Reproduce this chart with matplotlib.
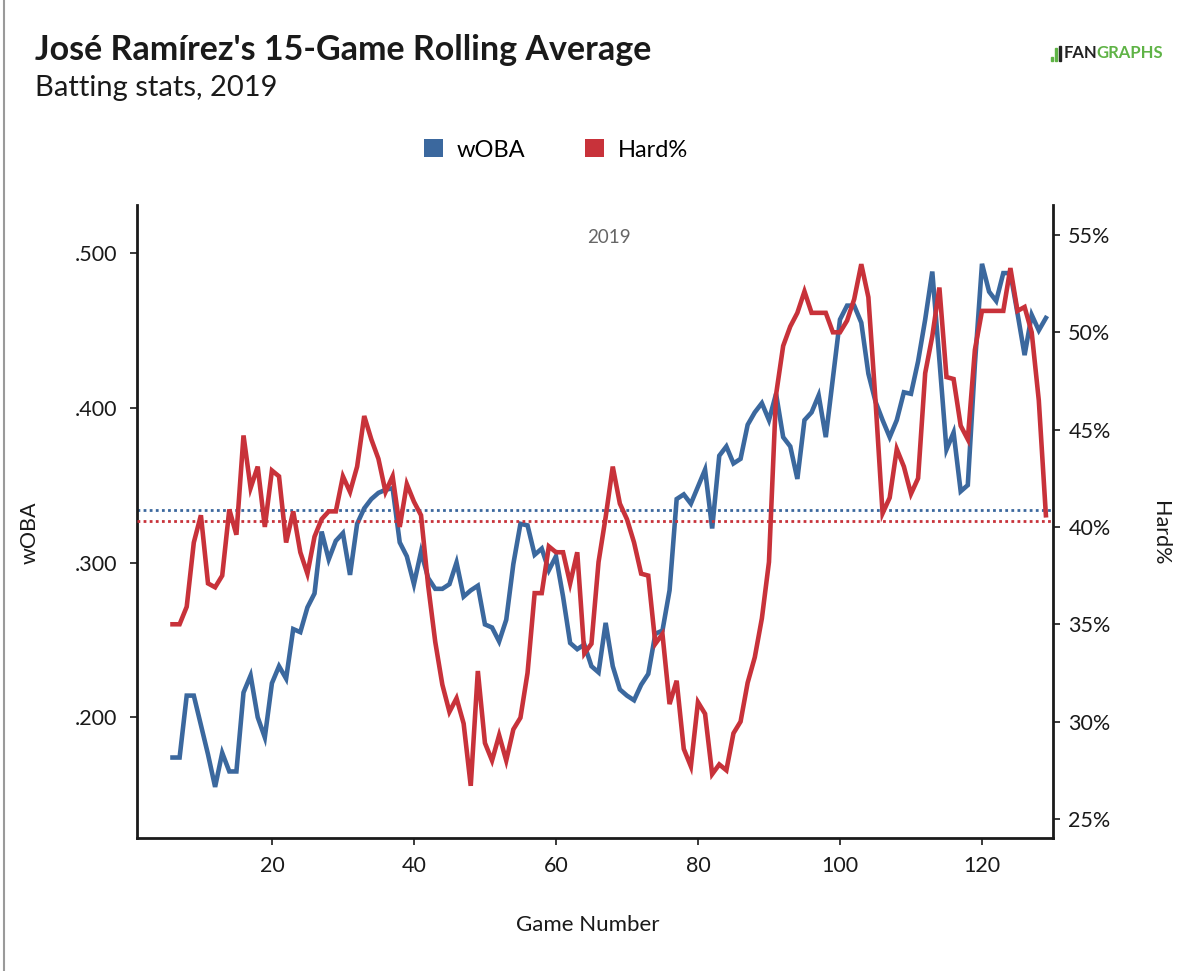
import numpy as np
import matplotlib
matplotlib.use("Agg")
import matplotlib.pyplot as plt
from matplotlib.patches import Patch, Rectangle
from matplotlib.lines import Line2D

plt.rcParams['font.family'] = ['Lato', 'DejaVu Sans']

# 15-game rolling averages, games 6..129
games = np.arange(6, 130)
woba = [
    .174, .174, .214, .214, .195, .176, .155, .177, .165, .165,   # 6-15
    .216, .227, .200, .187, .222, .233, .225, .257, .255, .271,   # 16-25
    .280, .320, .302, .314, .319, .292, .325, .335, .341, .345,   # 26-35
    .347, .348, .313, .304, .286, .307, .290, .283, .283, .286,   # 36-45
    .300, .278, .282, .285, .260, .258, .249, .263, .299, .325,   # 46-55
    .324, .305, .309, .295, .304, .278, .248, .244, .247, .233,   # 56-65
    .229, .261, .233, .218, .214, .211, .221, .228, .254, .256,   # 66-75
    .282, .341, .344, .338, .349, .360, .322, .369, .375, .364,   # 76-85
    .367, .389, .397, .403, .392, .409, .381, .375, .354, .392,   # 86-95
    .397, .408, .381, .419, .457, .466, .466, .455, .422, .404,   # 96-105
    .392, .381, .392, .410, .409, .430, .457, .488, .431, .373,   # 106-115
    .384, .346, .350, .428, .493, .475, .469, .487, .487, .461,   # 116-125
    .434, .460, .450, .458,                                       # 126-129
]
hard_pct = [
    35.0, 35.0, 35.9, 39.2, 40.6, 37.1, 36.9, 37.5, 40.9, 39.6,   # 6-15
    44.7, 42.0, 43.1, 40.0, 42.9, 42.6, 39.2, 40.8, 38.7, 37.6,   # 16-25
    39.5, 40.4, 40.8, 40.8, 42.6, 41.8, 43.1, 45.7, 44.5, 43.5,   # 26-35
    41.8, 42.6, 40.0, 42.2, 41.3, 40.6, 37.0, 34.1, 31.9, 30.5,   # 36-45
    31.2, 29.9, 26.7, 32.6, 28.9, 28.0, 29.3, 28.0, 29.6, 30.2,   # 46-55
    32.5, 36.6, 36.6, 39.0, 38.7, 38.7, 37.1, 38.7, 33.5, 34.0,   # 56-65
    38.2, 40.5, 43.1, 41.2, 40.4, 39.2, 37.6, 37.5, 34.0, 34.5,   # 66-75
    30.9, 32.1, 28.6, 27.7, 31.0, 30.4, 27.3, 27.8, 27.5, 29.4,   # 76-85
    30.0, 32.0, 33.3, 35.3, 38.2, 46.8, 49.3, 50.3, 51.0, 52.1,   # 86-95
    51.0, 51.0, 51.0, 50.0, 50.0, 50.6, 51.7, 53.5, 51.8, 46.5,   # 96-105
    40.7, 41.5, 44.0, 43.1, 41.7, 42.5, 47.9, 49.8, 52.3, 47.7,   # 106-115
    47.6, 45.2, 44.5, 49.1, 51.1, 51.1, 51.1, 51.1, 53.3, 51.1,   # 116-125
    51.3, 50.0, 46.5, 40.6,                                       # 126-129
]
woba_avg = 0.334
hard_avg = 40.3

x_ticks = [20, 40, 60, 80, 100, 120]
woba_ticks = [.200, .300, .400, .500]
woba_labels = ['.200', '.300', '.400', '.500']
hard_ticks = [25, 30, 35, 40, 45, 50, 55]
hard_labels = ['25%', '30%', '35%', '40%', '45%', '50%', '55%']

BLUE = '#3b689e'
RED = '#c8323a'
INK = '#1a1a1a'
FS = 15.5

fig = plt.figure(figsize=(12, 9.71), dpi=100)
ax = fig.add_axes([137/1200, 1 - 838/971, 916/1200, 633/971])
ax2 = ax.twinx()

ax.plot(games, woba, color=BLUE, lw=3.3, solid_joinstyle='miter', zorder=3)
ax2.plot(games, hard_pct, color=RED, lw=3.3, solid_joinstyle='miter', zorder=3)
ax.axhline(woba_avg, color=BLUE, lw=2, ls=(0, (1, 1.2)), zorder=2)
ax2.axhline(hard_avg, color=RED, lw=2, ls=(0, (1, 1.2)), zorder=2)

ax.set_xlim(1, 130)
ax.set_ylim(0.122, 0.531)
ax2.set_ylim(24.02, 56.54)

ax.set_xticks(x_ticks)
ax.set_yticks(woba_ticks)
ax.set_yticklabels(woba_labels)
ax2.set_yticks(hard_ticks)
ax2.set_yticklabels(hard_labels)

for a in (ax, ax2):
    a.spines['top'].set_visible(False)
    for s in ('left', 'right', 'bottom'):
        a.spines[s].set_linewidth(2)
        a.spines[s].set_color(INK)
    a.set_facecolor('none')
ax.spines['right'].set_visible(False)
ax2.spines['left'].set_visible(False)
ax2.spines['bottom'].set_visible(False)

ax.tick_params(axis='y', direction='out', length=5, width=1.2, labelsize=FS, pad=9, colors=INK)
ax.tick_params(axis='x', direction='out', length=5, width=1.2, labelsize=FS, pad=8, colors=INK)
ax2.tick_params(axis='y', direction='out', length=5, width=1.2, labelsize=FS, pad=6, colors=INK)

ax.set_ylabel('wOBA', fontsize=FS, color=INK)
ax.yaxis.set_label_coords(-0.106, 0.482)
ax2.set_ylabel('Hard%', fontsize=FS, color=INK, rotation=270, va='center')
ax2.yaxis.set_label_coords(1.117, 0.482)
ax.set_xlabel('Game Number', fontsize=16, color=INK)
ax.xaxis.set_label_coords(0.492, -0.122)

ax.text((games[0] + games[-1]) / 2, 0.949, '2019', transform=ax.get_xaxis_transform(),
        ha='center', va='center', fontsize=13.5, color='#666666')

# titles
fig.text(35/1200, 1 - 50/971, "José Ramírez's 15-Game Rolling Average",
         fontsize=24.5, fontweight='bold', color=INK, va='center', ha='left')
fig.text(35/1200, 1 - 88/971, 'Batting stats, 2019',
         fontsize=21, color=INK, va='center', ha='left')

# legend
handles = [Patch(facecolor=BLUE, edgecolor='none', label='wOBA'),
           Patch(facecolor=RED, edgecolor='none', label='Hard%')]
fig.legend(handles=handles, loc='center', bbox_to_anchor=(556/1200, 1 - 150/971),
           ncol=2, frameon=False, fontsize=17, handlelength=0.8, handleheight=0.8,
           handletextpad=0.6, columnspacing=2.5)

# fangraphs logo
r = fig.canvas.get_renderer()
t_fan = fig.text(1064/1200, 1 - 53/971, 'FAN', fontsize=12, fontweight='bold',
                 color='#222222', va='center', ha='left')
bb = t_fan.get_window_extent(renderer=r)
fig.text((bb.x1 - 1) / 1200, 1 - 53/971, 'GRAPHS', fontsize=12, fontweight='bold',
         color='#5fb346', va='center', ha='left')
fig.add_artist(Rectangle((1051/1200, 1 - 61/971), 2/1200, 4/971, color='#5fb346',
                         transform=fig.transFigure))
fig.add_artist(Rectangle((1055/1200, 1 - 61/971), 2/1200, 13/971, color='#5fb346',
                         transform=fig.transFigure))
fig.add_artist(Rectangle((1059/1200, 1 - 61/971), 2/1200, 15/971, color='#222222',
                         transform=fig.transFigure))

# screenshot border on the left
fig.add_artist(Line2D([4/1200, 4/1200], [0, 1], color='#9a9a9a', lw=1.5,
                      transform=fig.transFigure))

fig.savefig('out.png', dpi=100, facecolor='white')
